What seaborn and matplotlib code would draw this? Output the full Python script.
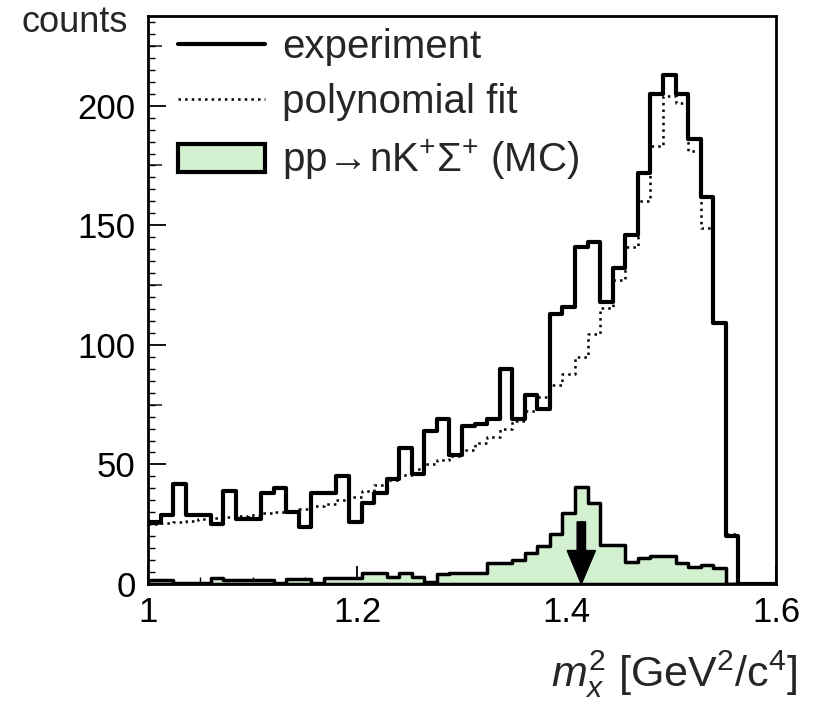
import numpy as np
import pandas as pd
import matplotlib
matplotlib.use("Agg")
import matplotlib.pyplot as plt
import seaborn as sns
from matplotlib.lines import Line2D
from matplotlib.patches import Patch
from matplotlib.ticker import MultipleLocator

# ---- data ----
bin_lo, bin_hi, n_bins = 1.0, 1.6, 50

experiment = [26, 29, 42, 29, 29, 25, 39, 27, 27, 38,
              40, 30, 24, 38, 38, 45, 26, 34, 38, 44,
              57, 46, 64, 69, 54, 66, 67, 69, 90, 69,
              79, 73, 113, 116, 141, 143, 118, 132, 146, 172,
              205, 213, 205, 186, 162, 109, 20, 0, 0, 0]

poly_fit = [25, 25.5, 26, 26.5, 27, 27.5, 28, 28.5, 29, 29.5,
            30, 30.5, 31.5, 32.5, 33.5, 35, 36.5, 39, 41.5, 43.5,
            45.5, 48, 50, 52, 53.5, 56, 59, 61.5, 65, 68,
            72.5, 78, 83, 88, 95, 104.5, 115.5, 127, 141, 160,
            183, 204, 201, 181, 149, 109.5, 21, 0, 0, 0]

mc_signal = [1.7, 1.7, 0.6, 0.6, 0.6, 2.6, 1.7, 1.7, 1.7, 1.7,
             0.6, 1.9, 1.9, 0.6, 2.4, 2.4, 2.4, 4.7, 4.7, 3.1,
             4.7, 3.1, 1.0, 4.2, 4.7, 4.7, 4.7, 8.9, 8.9, 10.0,
             13.1, 15.9, 20.9, 29.5, 40.6, 33.7, 16.3, 16.3, 9.3, 10.7,
             11.7, 11.7, 8.9, 7.2, 7.9, 6.5, 0, 0, 0, 0]

x_ticks = [1.0, 1.2, 1.4, 1.6]
x_tick_labels = ["1", "1.2", "1.4", "1.6"]
y_ticks = [0, 50, 100, 150, 200]
y_tick_labels = ["0", "50", "100", "150", "200"]
y_mid_ticks = [25, 75, 125, 175, 225]

sigma_threshold = 1.414   # m_x^2 of the Sigma+ (arrow position)
arrow_top = 26

legend_labels = ["experiment", "polynomial fit",
                 r"pp$\!\rightarrow\!$nK$^{+}\Sigma^{+}$ (MC)"]
y_title = "counts"
x_title = r"$m_x^2$ [GeV$^2$/c$^4$]"

mc_green = "#d3f1d1"

# ---- build table ----
edges = list(np.linspace(bin_lo, bin_hi, n_bins + 1))
centers = [(a + b) / 2 for a, b in zip(edges[:-1], edges[1:])]
df = pd.DataFrame({"m2": centers, "experiment": experiment,
                   "fit": poly_fit, "mc": mc_signal})

sns.set_theme(style="ticks")
plt.rcParams["font.family"] = ["Liberation Sans", "DejaVu Sans"]
plt.rcParams["mathtext.fontset"] = "custom"
plt.rcParams["mathtext.rm"] = "Liberation Sans"
plt.rcParams["mathtext.it"] = "Liberation Sans:italic"
plt.rcParams["mathtext.bf"] = "Liberation Sans:bold"
plt.rcParams["mathtext.sf"] = "Liberation Sans"

fig = plt.figure(figsize=(8.21, 7.01), dpi=100)
ax = fig.add_axes([148 / 821, 1 - 584 / 701, 628 / 821, 568 / 701])

sns.histplot(data=df, x="m2", weights="experiment", bins=edges,
             element="step", fill=False, color="black", linewidth=3,
             ax=ax, zorder=3)
sns.histplot(data=df, x="m2", weights="fit", bins=edges,
             element="step", fill=False, color="black", linewidth=1.8,
             linestyle=":", ax=ax, zorder=2)
sns.histplot(data=df, x="m2", weights="mc", bins=edges,
             element="step", fill=True, facecolor=mc_green,
             edgecolor="black", linewidth=2.5, alpha=1, ax=ax, zorder=4)

ax.arrow(sigma_threshold, arrow_top, 0, -arrow_top, width=0.008,
         head_width=0.027, head_length=14, length_includes_head=True,
         color="black", zorder=6)

ax.set_xlim(bin_lo, bin_hi)
ax.set_ylim(0, 237.5)
ax.set_xticks(x_ticks, x_tick_labels)
ax.set_yticks(y_ticks, y_tick_labels)
ax.xaxis.set_minor_locator(MultipleLocator(0.05))
ax.yaxis.set_minor_locator(MultipleLocator(5))
ax.tick_params(which="both", direction="in", top=False, right=False,
               colors="black", labelsize=25, pad=9)
ax.tick_params(which="major", length=13, width=1.3)
ax.tick_params(which="minor", length=5, width=1.0)

sec = ax.secondary_yaxis("left")
sec.set_yticks(y_mid_ticks)
sec.tick_params(direction="in", length=10, width=1.2, labelleft=False)
sec.spines["left"].set_visible(False)

for s in ax.spines.values():
    s.set_linewidth(2)
    s.set_color("black")

ax.set_xlabel("")
ax.set_ylabel("")

handles = [Line2D([], [], color="black", lw=3),
           Line2D([], [], color="black", lw=1.8, ls=":"),
           Patch(facecolor=mc_green, edgecolor="black", lw=3)]
ax.legend(handles, legend_labels, loc="upper left",
          bbox_to_anchor=(0.048, 0.979), frameon=False, fontsize=29,
          handlelength=2.16, handleheight=0.67, handletextpad=0.42,
          labelspacing=0.42, borderaxespad=0, borderpad=0)

fig.text(128 / 821, 1 - 22 / 701, y_title, ha="right", va="center",
         fontsize=26)
fig.text(797 / 821, 1 - 674 / 701, x_title, ha="right", va="center",
         fontsize=31)

fig.savefig("out.png", dpi=100)
